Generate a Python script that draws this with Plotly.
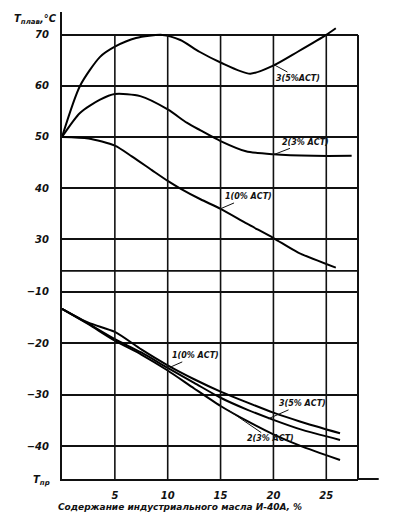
import plotly.graph_objects as go

# ---- data ----
# melting temperature, upper panel
x_melt_1 = [0, 2.5, 5, 6.6, 8.5, 10, 11.2, 13.1, 15, 17.5, 20, 22.3, 25.9]
t_melt_1 = [50, 49.7, 48.3, 46.2, 43.5, 41.4, 39.9, 37.8, 35.9, 33.0, 30.2, 27.4, 24.4]
x_melt_2 = [0, 1.7, 3.6, 5, 7.4, 10, 11.8, 13.1, 15, 17.4, 20, 23.8, 27.4]
t_melt_2 = [50, 54.7, 57.3, 58.4, 58.0, 55.4, 52.8, 51.3, 49.2, 47.2, 46.6, 46.3, 46.3]
x_melt_3 = [0, 1.7, 3.6, 5, 7, 9.5, 11.2, 13, 15, 17.8, 20, 22.3, 25, 25.9]
t_melt_3 = [50, 60, 65.7, 67.7, 69.4, 70, 69.0, 66.7, 64.6, 62.4, 64.0, 66.7, 70, 71.3]

# pour point, lower panel
x_pour = [0, 2.5, 5, 7.5, 10, 12.5, 15, 17.5, 20, 22.5, 26.3]
t_pour_a = [-13.3, -16.0, -17.8, -21.2, -24.3, -27.0, -29.4, -31.5, -33.5, -35.2, -37.5]
t_pour_b = [-13.3, -16.2, -19.2, -21.8, -24.8, -27.7, -30.6, -32.9, -34.9, -36.7, -38.8]
t_pour_c = [-13.3, -16.3, -19.5, -22.2, -25.3, -28.8, -32.2, -35.1, -37.7, -39.9, -42.7]

x_ticks = [5, 10, 15, 20, 25]
y_top_ticks = [30, 40, 50, 60, 70]
y_bot_ticks = [-10, -20, -30, -40]

INK = "#111111"
FONT = dict(family="DejaVu Sans", size=10, color=INK, style="italic", weight="bold")
LBL = dict(family="DejaVu Sans", size=8, color=INK, style="italic", weight="bold")

fig = go.Figure()
line = dict(color="black", width=2, shape="spline", smoothing=0.7)
for xs, ys in [(x_melt_1, t_melt_1), (x_melt_2, t_melt_2), (x_melt_3, t_melt_3)]:
    fig.add_trace(go.Scatter(x=xs, y=ys, mode="lines", line=line, yaxis="y2",
                             showlegend=False, hoverinfo="skip"))
for ys in [t_pour_a, t_pour_b, t_pour_c]:
    fig.add_trace(go.Scatter(x=x_pour, y=ys, mode="lines", line=line, yaxis="y",
                             showlegend=False, hoverinfo="skip"))

PLOT_H = 469.0
split = 209 / PLOT_H          # break between the two temperature scales
top70 = 446 / PLOT_H          # paper height of the 70 line

ax_common = dict(zeroline=False, showline=True, linecolor=INK, linewidth=2,
                 ticks="", tickfont=FONT)

fig.update_layout(
    width=394, height=513,
    margin=dict(l=62, r=36, t=12, b=32),
    paper_bgcolor="white", plot_bgcolor="white",
    xaxis=dict(range=[0, 28], tickvals=x_ticks, ticklabelstandoff=6, showgrid=False,
               **ax_common),
    yaxis=dict(domain=[0, split], range=[-46.39, -5.94], tickvals=y_bot_ticks,
               ticklabelstandoff=9, showgrid=True, gridcolor=INK,
               gridwidth=1.6, **ax_common),
    yaxis2=dict(domain=[split, 1], range=[23.76, 74.49], tickvals=y_top_ticks,
                ticklabelstandoff=9, anchor="x", showgrid=True, gridcolor=INK,
                gridwidth=1.6, **ax_common),
)

# vertical grid lines and right border (stop at the 70 line)
for xv in x_ticks:
    fig.add_shape(type="line", xref="x", yref="paper", x0=xv, x1=xv, y0=0, y1=top70,
                  line=dict(color=INK, width=1.6))
fig.add_shape(type="line", xref="paper", yref="paper", x0=1, x1=1, y0=0, y1=top70,
              line=dict(color=INK, width=2))
# break line between the two scales, x axis extension
fig.add_shape(type="line", xref="paper", yref="paper", x0=0, x1=1, y0=split, y1=split,
              line=dict(color=INK, width=1.8))
fig.add_shape(type="line", xref="paper", yref="paper", x0=1, x1=1.07, y0=0, y1=0,
              line=dict(color=INK, width=2))

def lab(text, x, y, yref, ax, ay):
    fig.add_annotation(text=text, x=x, y=y, xref="x", yref=yref, ax=ax, ay=ay,
                       showarrow=True, arrowhead=0, arrowwidth=1, arrowcolor=INK,
                       font=LBL, standoff=0)

lab("3(5%АСТ)", 20.1, 64.1, "y2", 24, 13)
lab("2(3% АСТ)", 20.1, 46.6, "y2", 31, -12)
lab("1(0% АСТ)", 14.95, 35.9, "y2", 28, -12)
lab("1(0% АСТ)", 10.3, -24.6, "y", 25, -11)
lab("3(5% АСТ)", 19.5, -34.7, "y", 34, -15)
lab("2(3% АСТ)", 15.8, -33.1, "y", 41, 28)

fig.add_annotation(text="T<sub>плав</sub>,°C", xref="paper", yref="paper", x=-0.01, y=0.985,
                   xanchor="right", yanchor="middle", showarrow=False, font=FONT)
fig.add_annotation(text="T<sub>пр</sub>", xref="paper", yref="paper", x=-0.035, y=-0.004,
                   xanchor="right", yanchor="middle", showarrow=False, font=FONT)
fig.add_annotation(text="Содержание индустриального масла И-40А, %", xref="paper", yref="paper",
                   x=-0.02, y=-0.061, xanchor="left", yanchor="middle", showarrow=False,
                   font=dict(family="DejaVu Sans", size=9, color=INK, style="italic", weight="bold"))

fig.write_html("out.html", config={"displayModeBar": False},
               post_script="document.body.style.margin='0px';")
